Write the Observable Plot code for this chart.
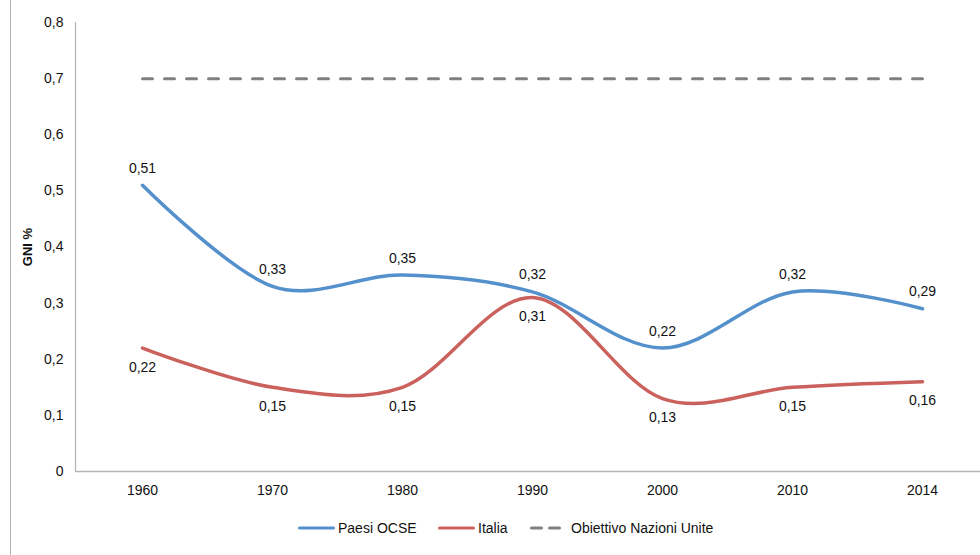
<!DOCTYPE html>
<html>
<head>
<meta charset="utf-8">
<script src="https://cdn.jsdelivr.net/npm/d3@7"></script>
<script src="https://cdn.jsdelivr.net/npm/@observablehq/plot@0.6"></script>
<style>
  html, body { margin: 0; padding: 0; background: #fff; }
  body { font-family: "Liberation Sans", Arial, sans-serif; }
  #wrap { position: relative; width: 980px; height: 555px; overflow: hidden; }
  #leftline { position: absolute; left: 10px; top: 0; width: 1px; height: 555px; background: #b5b5b5; }
  #chart { position: absolute; left: 0; top: 0; }
  #chart svg [aria-label="y-axis label"] text { font-weight: bold; font-size: 13px; }
  #legend { position: absolute; left: 0; top: 519px; width: 980px; height: 18px; font-size: 14px; color: #111; }
  .item { position: absolute; top: 0; height: 18px; display: flex; align-items: center; white-space: nowrap; }
</style>
</head>
<body>
<div id="wrap">
  <div id="leftline"></div>
  <div id="chart"></div>
  <div id="legend"></div>
</div>
<script>
const years = ["1960", "1970", "1980", "1990", "2000", "2010", "2014"];
const ocse = [0.51, 0.33, 0.35, 0.32, 0.22, 0.32, 0.29];
const italia = [0.22, 0.15, 0.15, 0.31, 0.13, 0.15, 0.16];
const target = [0.7, 0.7, 0.7, 0.7, 0.7, 0.7, 0.7];
const yTicks = [0, 0.1, 0.2, 0.3, 0.4, 0.5, 0.6, 0.7, 0.8];
const seriesNames = ["Paesi OCSE", "Italia", "Obiettivo Nazioni Unite"];
const colors = ["#5390cc", "#cb615c", "#808080"];

const rows = (vals, s) => years.map((y, i) => ({ year: y, value: vals[i], series: s }));
const dOcse = rows(ocse, seriesNames[0]);
const dIt = rows(italia, seriesNames[1]);
const dTarget = rows(target, seriesNames[2]);

const fmt = v => v === 0 ? "0" : String(v).replace(".", ",");
const fmt1 = v => v === 0 ? "0" : v.toFixed(1).replace(".", ",");

const leftAxisLine = (index, scales, values, dims) => {
  const l = document.createElementNS("http://www.w3.org/2000/svg", "line");
  l.setAttribute("x1", dims.marginLeft + 0.5);
  l.setAttribute("x2", dims.marginLeft + 0.5);
  l.setAttribute("y1", scales.y(0.8));
  l.setAttribute("y2", scales.y(0));
  l.setAttribute("stroke", "#b5b5b5");
  l.setAttribute("stroke-width", 1.3);
  return l;
};

const plot = Plot.plot({
  width: 980,
  height: 500,
  marginLeft: 75,
  marginRight: 0,
  marginTop: 22,
  marginBottom: 29,
  style: { fontFamily: "'Liberation Sans', Arial, sans-serif", fontSize: "14px", color: "#111", background: "transparent" },
  x: { type: "point", domain: years, range: [141, 922], padding: 0 },
  y: { domain: [0, 0.8] },
  marks: [
    Plot.axisY({ ticks: yTicks, tickSize: 0, tickPadding: 12, tickFormat: fmt1, label: "GNI %", labelArrow: "none", labelAnchor: "center", labelOffset: 53, fontSize: 14 }),
    Plot.axisX({ tickSize: 0, tickPadding: 14, label: null, fontSize: 14 }),
    Plot.ruleY([0], { stroke: "#b5b5b5", strokeWidth: 1.3, strokeOpacity: 1 }),
    leftAxisLine,
    Plot.line(dTarget, { x: "year", y: "value", stroke: colors[2], strokeWidth: 3, strokeDasharray: "10 12", strokeLinecap: "round" }),
    Plot.line(dOcse, { x: "year", y: "value", stroke: colors[0], strokeWidth: 3.5, curve: "cardinal", tension: 0 }),
    Plot.line(dIt, { x: "year", y: "value", stroke: colors[1], strokeWidth: 3.5, curve: "cardinal", tension: 0 }),
    Plot.text(dOcse, { x: "year", y: "value", text: d => fmt(d.value), dy: -17, fill: "#111", fontSize: 14 }),
    Plot.text(dIt, { x: "year", y: "value", text: d => fmt(d.value), dy: 19, fill: "#111", fontSize: 14 })
  ]
});
document.getElementById("chart").appendChild(plot);

const legend = document.getElementById("legend");
const swLeft = [298, 438, 530];
const swWidth = [37, 37, 31];
const textLeft = [338, 478, 571];
const ns = "http://www.w3.org/2000/svg";
seriesNames.forEach((name, i) => {
  const sv = document.createElementNS(ns, "svg");
  sv.setAttribute("width", swWidth[i]);
  sv.setAttribute("height", 10);
  sv.style.position = "absolute";
  sv.style.left = swLeft[i] + "px";
  sv.style.top = "4px";
  const ln = document.createElementNS(ns, "line");
  ln.setAttribute("x1", 1.5);
  ln.setAttribute("x2", swWidth[i] - 1.5);
  ln.setAttribute("y1", 5);
  ln.setAttribute("y2", 5);
  ln.setAttribute("stroke", colors[i]);
  ln.setAttribute("stroke-width", 3);
  ln.setAttribute("stroke-linecap", "round");
  if (i === 2) ln.setAttribute("stroke-dasharray", "10 8");
  sv.appendChild(ln);
  legend.appendChild(sv);
  const t = document.createElement("span");
  t.className = "item";
  t.style.left = textLeft[i] + "px";
  t.textContent = name;
  legend.appendChild(t);
});
</script>
</body>
</html>
